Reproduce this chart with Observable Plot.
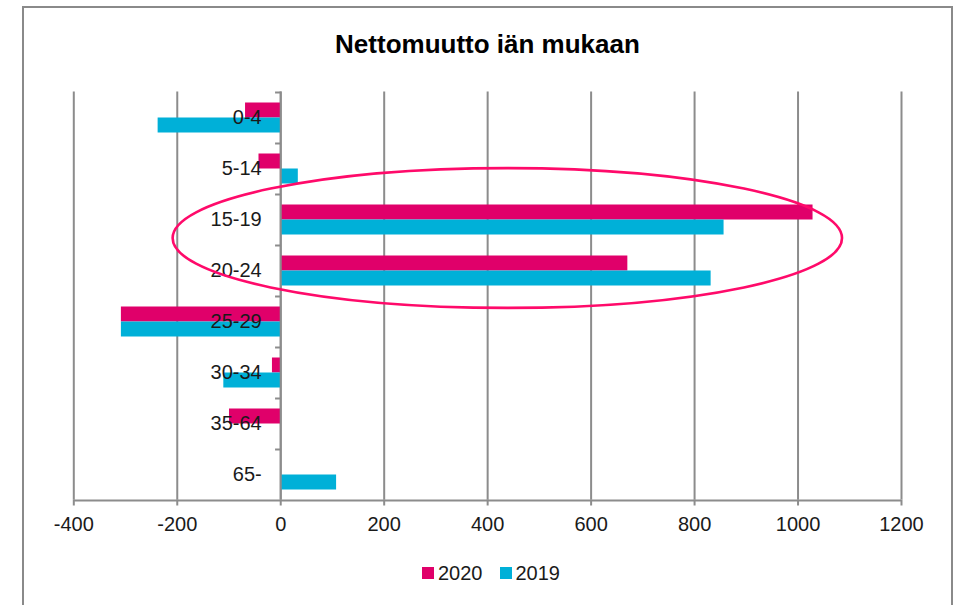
<!DOCTYPE html>
<html>
<head>
<meta charset="utf-8">
<script src="https://cdn.jsdelivr.net/npm/d3@7"></script>
<script src="https://cdn.jsdelivr.net/npm/@observablehq/plot@0.6"></script>
<style>
  body { margin: 0; background: #fff; font-family: "Liberation Sans", Arial, sans-serif; }
  #wrap { position: relative; width: 959px; height: 605px; overflow: hidden; background: #fff; }
  #frame { position: absolute; left: 22px; top: 6px; width: 927px; height: 660px; border: 2px solid #8a8a8a; }
  #title { position: absolute; left: 0; width: 975px; top: 31px; text-align: center; font-weight: bold; font-size: 26px; line-height: 26px; color: #000; }
  #chart { position: absolute; left: 0; top: 0; }
  #legend { position: absolute; left: 422px; top: 563px; display: flex; align-items: center; font-size: 20px; line-height: 20px; color: #1a1a1a; }
  .item { display: flex; align-items: center; margin-right: 17px; }
  .sw { width: 12px; height: 12px; margin-right: 4px; }
</style>
</head>
<body>
<div id="wrap">
  <div id="frame"></div>
  <div id="title">Nettomuutto iän mukaan</div>
  <div id="chart"></div>
  <div id="legend"></div>
</div>
<script>
// ---- data ----
const categories = ["0-4", "5-14", "15-19", "20-24", "25-29", "30-34", "35-64", "65-"];
const values2020 = [-68, -42, 1029, 671, -308, -16, -99, 0];
const values2019 = [-237, 34, 857, 832, -308, -110, 0, 108];
const seriesNames = ["2020", "2019"];
const xTicks = [-400, -200, 0, 200, 400, 600, 800, 1000, 1200];
// highlighted region (annotation): x extent in data units, around 15-19 and 20-24
const highlightX = [-208, 1086];
const highlightCats = ["15-19", "20-24"];

// ---- build ----
const rows = categories.map((c, i) => ({cat: c, v2020: values2020[i], v2019: values2019[i]}));
const colors = {"2020": "#E0006A", "2019": "#00B0D8"};
const grid = "#8c8c8c";

const W = 959, H = 560, mT = 91.5, mB = 60.5, mL = 73.3, mR = 58;
const bw = (H - mT - mB) / categories.length;

function highlightEllipse(index, scales) {
  const {x, y} = scales;
  const b = y.bandwidth();
  const x0 = x(highlightX[0]), x1 = x(highlightX[1]);
  const yTop = y(highlightCats[0]), yBot = y(highlightCats[1]) + b;
  const cy = (yTop + yBot) / 2 - 7;
  return d3.create("svg:ellipse")
    .attr("cx", (x0 + x1) / 2)
    .attr("cy", cy)
    .attr("rx", (x1 - x0) / 2)
    .attr("ry", b * 1.37)
    .attr("fill", "none")
    .attr("stroke", "#FF0A6A")
    .attr("stroke-width", 2.6)
    .node();
}

const plot = Plot.plot({
  width: W,
  height: H,
  marginTop: mT,
  marginBottom: mB,
  marginLeft: mL,
  marginRight: mR,
  style: {fontFamily: "'Liberation Sans', Arial, sans-serif", fontSize: "20px", background: "transparent", color: "#1a1a1a"},
  x: {domain: [-400, 1200]},
  y: {domain: categories, padding: 0, axis: null},
  marks: [
    Plot.ruleX(xTicks, {stroke: grid, strokeWidth: 2}),
    Plot.barX(rows, {x: "v2020", y: "cat", fill: colors["2020"], insetTop: 10.5, insetBottom: 25.5}),
    Plot.barX(rows, {x: "v2019", y: "cat", fill: colors["2019"], insetTop: 25.5, insetBottom: 10.5}),
    Plot.ruleX([0], {stroke: grid, strokeWidth: 2}),
    Plot.ruleY(categories, {y: d => d, x1: -10, x2: 0, dy: -bw / 2, stroke: grid, strokeWidth: 2}),
    Plot.ruleY([categories[categories.length - 1]], {y: d => d, x1: -400, x2: 1200, dy: bw / 2, stroke: grid, strokeWidth: 2}),
    Plot.axisX({ticks: xTicks, tickFormat: d => String(d), tickSize: 6, tickPadding: 10.5, stroke: grid, strokeWidth: 2, fill: "#1a1a1a", fontSize: 20}),
    Plot.text(categories, {x: () => 0, y: d => d, dx: -19, textAnchor: "end", fill: "#1a1a1a", fontSize: 20}),
    highlightEllipse
  ]
});
document.getElementById("chart").appendChild(plot);

const legend = document.getElementById("legend");
seriesNames.forEach(name => {
  const item = document.createElement("div");
  item.className = "item";
  const sw = document.createElement("div");
  sw.className = "sw";
  sw.style.background = colors[name];
  const t = document.createElement("span");
  t.textContent = name;
  item.appendChild(sw);
  item.appendChild(t);
  legend.appendChild(item);
});
</script>
</body>
</html>
